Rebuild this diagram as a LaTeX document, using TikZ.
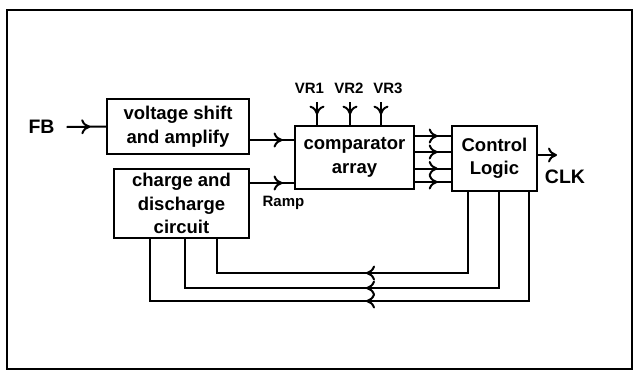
\documentclass[tikz,border=0pt]{standalone}
\usepackage{fontspec}
\setmainfont{Liberation Sans}
\usepackage{tikz}
\usetikzlibrary{calc,arrows.meta,positioning,decorations.markings}
\definecolor{wireBlack}{RGB}{0,0,0}
\newcommand{\blkfont}{\fontsize{18.5}{23.5}\selectfont\bfseries}
\newcommand{\sigfont}{\fontsize{19.5}{22}\selectfont\bfseries}
\newcommand{\smallfont}{\fontsize{15}{17}\selectfont\bfseries}
\tikzset{
  blk/.style={draw=wireBlack, line width=2pt, align=center, font=\blkfont, inner sep=2pt},
  wire/.style={draw=wireBlack, line width=2pt},
  arrowhd/.style={-{To[length=9pt,width=15pt]}},
  midarrow/.style={postaction={decorate}, decoration={markings,
    mark=at position #1 with {\arrow{To[length=9pt,width=15pt]}}}}
}

\begin{document}
\begin{tikzpicture}[x=1pt,y=-1pt]
\useasboundingbox (0,0) rectangle (635,376);
\draw[line width=2pt] (7,10) rectangle (632,369);
% blocks
\node[blk, minimum width=142pt, minimum height=55pt] (vsa) at (178,126.5) {voltage shift\\and amplify};
\node[blk, minimum width=135pt, minimum height=69pt] (cdc) at (181.5,203.5) {charge and\\discharge\\circuit};
\node[blk, minimum width=119pt, minimum height=63pt] (cmp) at (354.5,157.5) {comparator\\array};
\node[blk, minimum width=85pt, minimum height=65pt] (ctl) at (494.5,158.5) {Control\\Logic};
% signals
\node[font=\sigfont, inner sep=2pt] (fb) at (41.5,127) {FB};
\node[font=\sigfont, inner sep=2pt] (clk) at (565,177) {CLK};
\node[font=\smallfont, inner sep=2pt] (ramp) at (283.5,203) {Ramp};
\coordinate (clkend) at (557,155);
\draw[wire, midarrow=0.6] ([xshift=10pt]fb.east) -- (vsa.west);
\draw[wire, midarrow=0.74] ([yshift=-13.5pt]vsa.east) coordinate (v1) -- (v1 -| cmp.west);
\draw[wire, midarrow=0.74] ([yshift=20.5pt]cdc.east) coordinate (c1) -- (c1 -| cmp.west);
\foreach \i/\lx/\ax in {1/309.5/317, 2/349/350, 3/388/381} {
  \node[font=\smallfont, inner sep=2pt] (vr\i) at (\lx,88) {VR\i};
  \draw[wire, midarrow=0.55] (\ax,102) coordinate (r\i) -- (r\i |- cmp.north);
}
\foreach \dy in {21.5,5.5,-11,-24.5}
  \draw[wire, midarrow=0.63] ([yshift=\dy pt]cmp.east) coordinate (o) -- (o -| ctl.west);
\draw[wire, arrowhd] (clkend -| ctl.east) -- (clkend);
% feedback
\foreach \a/\y/\b/\p in {-26.5/273/35.5/183pt, 4.5/288/3.5/229pt, 34.5/301/-31.5/272pt}
  \draw[wire, midarrow=\p] ([xshift=\a pt]ctl.south) |- ([xshift=\b pt]cdc.south |- 0,\y) -- ([xshift=\b pt]cdc.south);
\end{tikzpicture}
\end{document}
